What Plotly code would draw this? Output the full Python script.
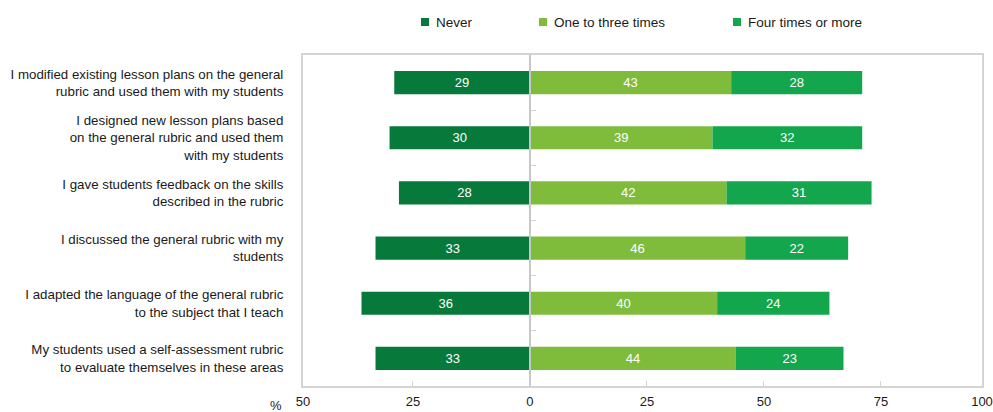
import plotly.graph_objects as go

# Survey items (top to bottom)
statements = [
    "I modified existing lesson plans on the general<br>rubric and used them with my students",
    "I designed new lesson plans based<br>on the general rubric and used them<br>with my students",
    "I gave students feedback on the skills<br>described in the rubric",
    "I discussed the general rubric with my<br>students",
    "I adapted the language of the general rubric<br>to the subject that I teach",
    "My students used a self-assessment rubric<br>to evaluate themselves in these areas",
]
never = [29, 30, 28, 33, 36, 33]
one_to_three = [43, 39, 42, 46, 40, 44]
four_or_more = [28, 32, 31, 22, 24, 23]

series_names = ["Never", "One to three times", "Four times or more"]
colors = ["#077a3b", "#80bc3c", "#13a64d"]

tick_vals = [-25, 0, 25, 50, 75]
tick_text = ["25", "0", "25", "50", "75"]
x_min, x_max = -48.5, 96.6
edge_text = ["50", "100"]

W, H = 993, 412
M = dict(l=303, r=11, t=55, b=26)
FONT = "Liberation Sans, Arial, Helvetica, sans-serif"
TXT = "#1a1a1a"
FRAME = "#d4d4d4"

fig = go.Figure()
bar_w = 0.42
fig.add_trace(go.Bar(
    y=statements, x=[-v for v in never], text=never, orientation="h",
    marker=dict(color=colors[0], line=dict(width=0)), width=bar_w, name=series_names[0],
))
fig.add_trace(go.Bar(
    y=statements, x=one_to_three, text=one_to_three, orientation="h",
    marker=dict(color=colors[1], line=dict(width=0)), width=bar_w, name=series_names[1],
))
fig.add_trace(go.Bar(
    y=statements, x=four_or_more, text=four_or_more, orientation="h",
    marker=dict(color=colors[2], line=dict(width=0)), width=bar_w, name=series_names[2],
))
fig.update_traces(
    textposition="inside", insidetextanchor="middle", textangle=0,
    textfont=dict(color="white", size=13, family=FONT), constraintext="none",
    hoverinfo="skip",
)

n = len(statements)
zero_frac = (0 - x_min) / (x_max - x_min)

fig.update_layout(
    width=W, height=H, margin=M,
    paper_bgcolor="white", plot_bgcolor="white",
    barmode="relative", showlegend=False,
    font=dict(family=FONT, size=13, color=TXT),
    xaxis=dict(
        range=[x_min, x_max], automargin=False,
        tickvals=[x_min] + tick_vals + [x_max],
        ticktext=[edge_text[0]] + tick_text + [edge_text[1]],
        ticks="inside", ticklen=5, tickcolor=FRAME, tickwidth=1,
        showgrid=False, zeroline=False,
        showline=True, mirror=True, linecolor=FRAME, linewidth=2,
        tickfont=dict(size=13, color=TXT), ticklabelstandoff=2,
    ),
    yaxis=dict(
        categoryorder="array", categoryarray=statements,
        autorange="reversed", automargin=False,
        showgrid=False, zeroline=False,
        showline=True, mirror=True, linecolor=FRAME, linewidth=2,
        ticks="", ticklabelstandoff=15,
        tickfont=dict(size=13.3, color=TXT),
    ),
    yaxis2=dict(
        overlaying="y", anchor="free", position=zero_frac, side="right",
        range=[n - 0.5, -0.5], automargin=False,
        tickvals=[i + 0.5 for i in range(n - 1)],
        ticks="outside", ticklen=5, tickcolor=FRAME, tickwidth=1,
        showticklabels=False, showgrid=False, zeroline=False,
        showline=True, linecolor="#c8c8c8", linewidth=2,
    ),
)

# Zero reference axis needs a trace to be drawn
fig.add_trace(go.Scatter(x=[0], y=[0], yaxis="y2", mode="markers",
                         marker=dict(opacity=0), hoverinfo="skip", showlegend=False))

# "%" unit label beside the x tick labels
pw = W - M["l"] - M["r"]
ph = H - M["t"] - M["b"]
def px_x(p):
    return (p - M["l"]) / pw
def px_y(p):
    return (H - M["b"] - p) / ph

fig.add_annotation(text="%", x=px_x(276), y=px_y(405), xref="paper", yref="paper",
                   showarrow=False, xanchor="center", yanchor="middle",
                   font=dict(size=13, color=TXT))

# Legend row across the top
legend_sq = [421, 539, 733]
for name, color, sx in zip(series_names, colors, legend_sq):
    fig.add_shape(type="rect", xref="paper", yref="paper",
                  x0=px_x(sx), x1=px_x(sx + 8), y0=px_y(26), y1=px_y(18),
                  fillcolor=color, line=dict(width=0))
    fig.add_annotation(text=name, x=px_x(sx + 13), y=px_y(22), xref="paper", yref="paper",
                       showarrow=False, xanchor="left", yanchor="middle",
                       font=dict(size=13.5, color=TXT))

fig.write_html("out.html")
